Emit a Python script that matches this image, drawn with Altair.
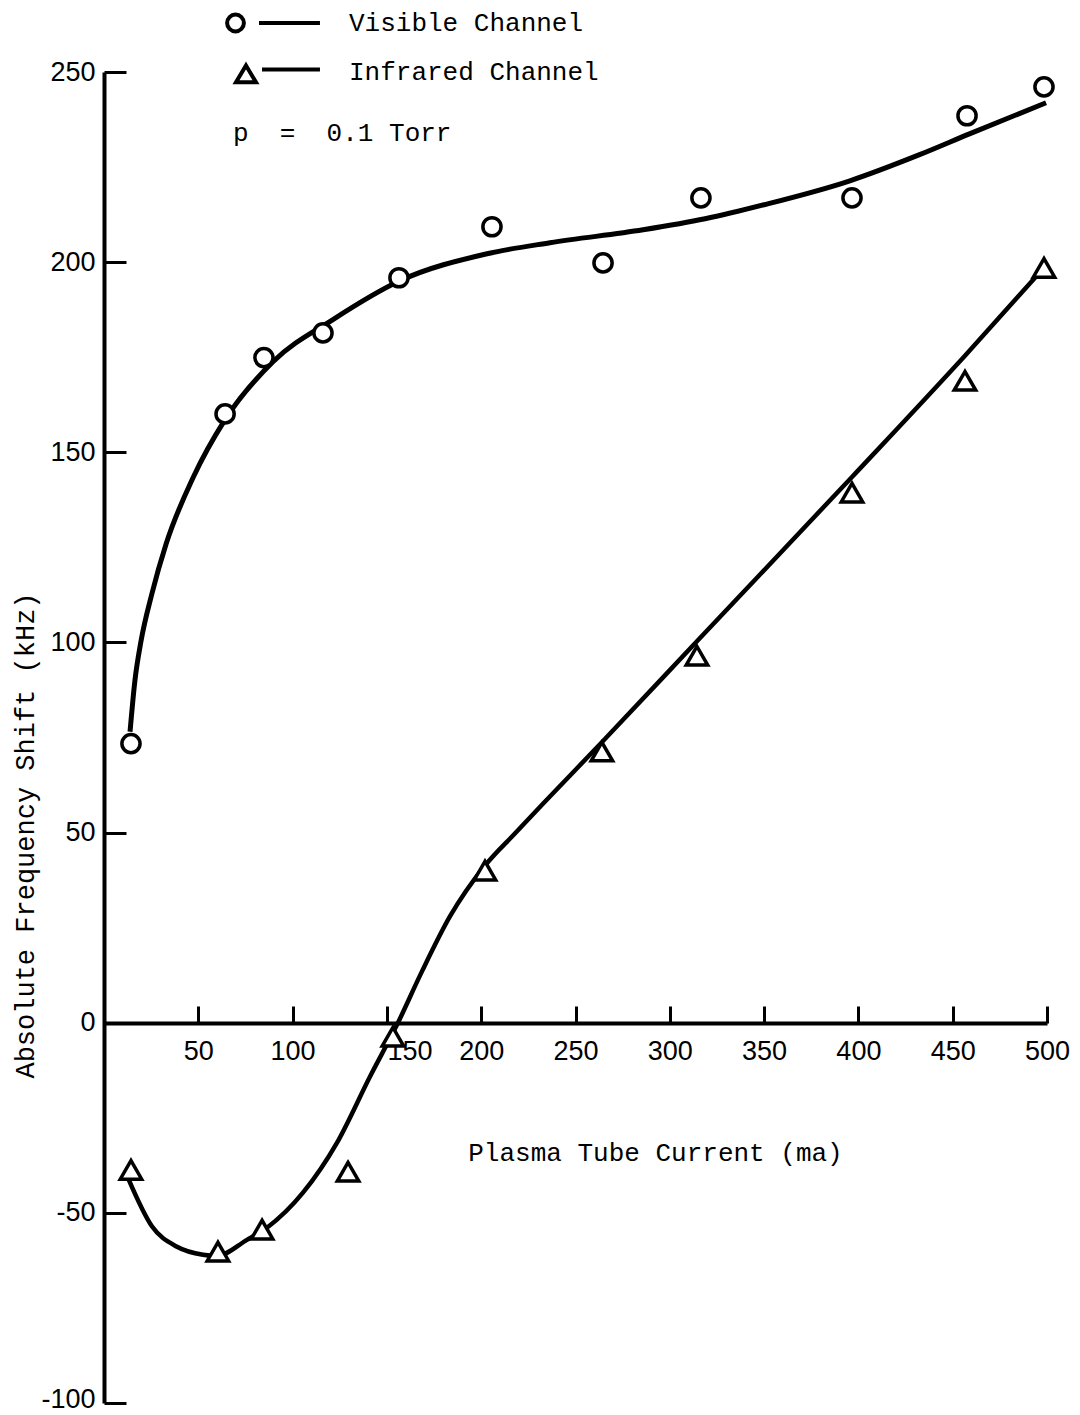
import altair as alt
import pandas as pd

# ---- data ----
x_ticks = [50, 100, 150, 200, 250, 300, 350, 400, 450, 500]
y_ticks = [-100, -50, 0, 50, 100, 150, 200, 250]

vis_current = [14.3, 64.2, 84.8, 116.1, 156.4, 205.7, 264.6, 316.5, 396.6, 457.6, 498.4]
vis_shift = [73.4, 160.1, 174.9, 181.4, 195.9, 209.3, 199.8, 216.9, 216.9, 238.5, 246.1]

ir_current = [14.3, 60.4, 83.8, 129.4, 153.2, 202.0, 264.0, 314.4, 396.6, 456.5, 498.4]
ir_shift = [-38.7, -60.2, -54.4, -39.2, -3.7, 40.0, 71.3, 96.5, 139.4, 168.8, 198.5]

vis_fit_current = [13.8, 16.4, 19.5, 25.5, 33.0, 47.2, 64.2, 89.6, 121.4, 156.9, 203.1,
                   236.5, 285.8, 318.7, 350.0, 395.5, 432.1, 459.2, 499.5]
vis_fit_shift = [76.5, 90.0, 100.0, 113.0, 126.0, 143.3, 158.6, 173.8, 184.9, 195.1, 202.2,
                 205.1, 208.5, 211.4, 215.1, 221.4, 228.2, 233.8, 241.9]

ir_fit_current = [12.7, 25.5, 38.7, 52.5, 59.9, 75.8, 86.4, 105.5, 123.5, 141.0, 155.4,
                  168.6, 183.5, 202.0, 218.0, 233.0, 264.1, 314.4, 396.6, 456.5, 498.4]
ir_fit_shift = [-40.8, -53.6, -58.9, -61.0, -61.3, -57.1, -53.9, -44.7, -31.6, -14.2, -0.5,
                13.5, 28.0, 41.3, 49.8, 57.7, 73.8, 100.3, 143.5, 175.4, 198.5]

legend_labels = ["Visible Channel", "Infrared Channel"]
legend_note = "p\u00a0\u00a0=\u00a0\u00a00.1 Torr"

# ---- styles ----
LABEL_FONT = "Liberation Sans"
TEXT_FONT = "Liberation Mono"
W, H = 943, 1331

legend_paths = [
    "M-0.258,0A0.7,0.7,0,1,1,-1.658,0A0.7,0.7,0,1,1,-0.258,0Z M1,0L6.08,0",
    "M-0.083,-0.5L0.75,0.9L-0.917,0.9Z M1.25,-0.17L6.08,-0.17",
]

x_scale = alt.Scale(domain=[0, 500], nice=False, zero=False)
y_scale = alt.Scale(domain=[-100, 250], nice=False, zero=False)

vis_df = pd.DataFrame({"current": vis_current, "shift": vis_shift})
ir_df = pd.DataFrame({"current": ir_current, "shift": ir_shift})
vis_fit_df = pd.DataFrame({"current": vis_fit_current, "shift": vis_fit_shift})
ir_fit_df = pd.DataFrame({"current": ir_fit_current, "shift": ir_fit_shift})
legend_df = pd.DataFrame({"series": legend_labels,
                          "current": [None, None], "shift": [None, None]})

# main axes (labels + domain lines, axis crossing at y = 0)
x_main_axis = alt.Axis(
    orient="bottom", offset=-380, values=x_ticks, ticks=False, tickSize=0,
    domain=True, domainColor="black", domainWidth=4, grid=False,
    labelFont=LABEL_FONT, labelFontSize=27, labelColor="black", labelPadding=15,
    labelFlush=False, labelOverlap=False,
    labelAlign={"condition": {"test": "datum.value == 150", "value": "left"},
                "value": "center"},
    labelExpr="datum.value == 150 ? '\u00a0150' : '' + datum.value",
    title="Plasma Tube Current (ma)", titleFont=TEXT_FONT, titleFontSize=26,
    titleFontWeight="normal", titleColor="black", titleX=551, titleY=129,
    titleBaseline="middle", titleAlign="center",
)
y_main_axis = alt.Axis(
    orient="left", values=y_ticks, ticks=False, tickSize=0,
    domain=True, domainColor="black", domainWidth=4, grid=False,
    labelFont=LABEL_FONT, labelFontSize=27, labelColor="black", labelPadding=9,
    labelFlush=False, labelOverlap=False, labelExpr="'' + datum.value",
    labelOffset={"condition": {"test": "datum.value == -100", "value": -4},
                 "value": 0},
    title="Absolute Frequency Shift (kHz)", titleFont=TEXT_FONT, titleFontSize=27,
    titleFontWeight="normal", titleColor="black", titleAngle=270,
    titleX=-79, titleY=763, titleBaseline="middle", titleAlign="center",
)
# tick-only axes so ticks point into the plot
x_tick_axis = alt.Axis(
    orient="top", offset=-951, values=x_ticks, ticks=True, tickSize=17,
    tickWidth=3, tickColor="black", labels=False, domain=False, grid=False, title=None,
)
y_tick_axis = alt.Axis(
    orient="right", offset=-943, values=y_ticks, ticks=True, tickSize=22,
    tickWidth=3, tickColor="black", labels=False, domain=False, grid=False, title=None,
)

vis_line = alt.Chart(vis_fit_df).mark_line(
    interpolate="monotone", color="black", strokeWidth=5
).encode(
    x=alt.X("current:Q", scale=x_scale, axis=x_main_axis),
    y=alt.Y("shift:Q", scale=y_scale, axis=y_main_axis),
)

ir_line = alt.Chart(ir_fit_df).mark_line(
    interpolate="monotone", color="black", strokeWidth=4.5
).encode(
    x=alt.X("current:Q", scale=x_scale, axis=x_tick_axis),
    y=alt.Y("shift:Q", scale=y_scale, axis=y_tick_axis),
)

vis_pts = alt.Chart(vis_df).mark_point(
    shape="circle", filled=True, fill="white", stroke="black",
    strokeWidth=3.5, size=330, opacity=1
).encode(
    x=alt.X("current:Q", scale=x_scale, axis=None),
    y=alt.Y("shift:Q", scale=y_scale, axis=None),
)

ir_pts = alt.Chart(ir_df).mark_point(
    shape="triangle-up", filled=True, fill="white", stroke="black",
    strokeWidth=3.5, size=460, opacity=1
).encode(
    x=alt.X("current:Q", scale=x_scale, axis=None),
    y=alt.Y("shift:Q", scale=y_scale, axis=None),
)

legend_layer = alt.Chart(legend_df).mark_point(
    filled=False, color="black", strokeWidth=4, opacity=1
).encode(
    x=alt.X("current:Q", scale=x_scale, axis=None),
    y=alt.Y("shift:Q", scale=y_scale, axis=None),
    shape=alt.Shape(
        "series:N",
        scale=alt.Scale(domain=legend_labels, range=legend_paths),
        legend=alt.Legend(
            orient="none", legendX=129, legendY=-63, direction="vertical",
            title=legend_note, titleOrient="bottom", titleAnchor="start",
            titleFont=TEXT_FONT, titleFontSize=26, titleFontWeight="normal",
            titleColor="black", titlePadding=30, titleLimit=600,
            labelFont=TEXT_FONT, labelFontSize=26, labelColor="black",
            labelOffset=88, labelLimit=600,
            symbolSize=576, symbolStrokeWidth=4, symbolStrokeColor="black",
            symbolFillColor="transparent", symbolOpacity=1,
            rowPadding=17.5, padding=0,
        ),
    ),
)

chart = alt.layer(
    vis_line, ir_line, vis_pts, ir_pts, legend_layer
).resolve_axis(
    x="independent", y="independent"
).properties(
    width=W, height=H,
    padding={"left": 104, "top": 72, "right": 33, "bottom": 12},
    autosize=alt.AutoSizeParams(type="none"),
    background="white",
).configure_view(stroke=None)

chart.save("out.html", embed_options={"renderer": "svg", "actions": False})
